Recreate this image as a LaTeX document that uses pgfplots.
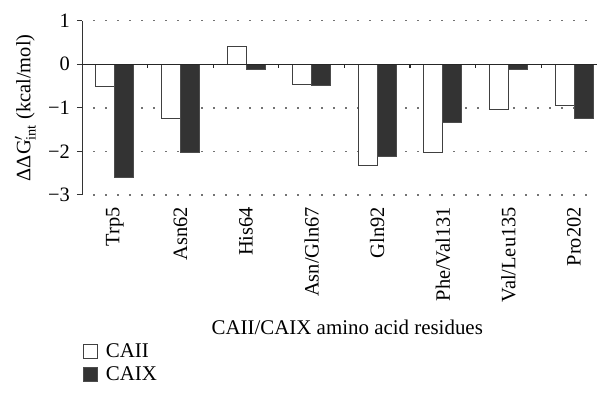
\documentclass[border=0pt]{standalone}
\usepackage{pgfplots}
\pgfplotsset{compat=1.18}
\usepackage{fontspec}
\setmainfont{Liberation Serif}
\begin{document}
\fontsize{21}{25}\selectfont
\begin{tikzpicture}
\path[use as bounding box] (0,0) rectangle (597bp,398bp);
\begin{axis}[
  at={(82bp,203bp)}, anchor=south west,
  scale only axis, width=515bp, height=174.3bp,
  xmin=-0.5, xmax=7.35, ymin=-3, ymax=1,
  clip=false,
  ybar=0pt, bar width=19bp,
  axis lines*=left,
  x axis line style={draw=none},
  y axis line style={black!80, line width=1bp},
  xtick={0,...,7},
  xticklabels={Trp5,Asn62,His64,Asn/Gln67,Gln92,Phe/Val131,Val/Leu135,Pro202},
  xtick style={draw=none},
  xticklabel style={rotate=90, anchor=east, font=\fontsize{20.5}{24}\selectfont},
  ytick={-3,-2,-1,0,1},
  yticklabels={−3,−2,−1,0,1},
  ytick style={black!80, line width=1bp},
  yticklabel style={font=\fontsize{20.5}{24}\selectfont},
  major tick length=5bp, tick align=outside,
  ylabel={ΔΔG$'_{\mathrm{int}}$ (kcal/mol)},
  ylabel style={at={(axis description cs:-0.11,0.5)}, anchor=center, font=\fontsize{20.5}{24}\selectfont},
  xlabel={CAII/CAIX amino acid residues},
  xlabel style={at={(axis description cs:0.515,-0.757)}, anchor=center, font=\fontsize{21}{25}\selectfont},
  legend style={draw=none, fill=none, at={(axis description cs:-0.004,-0.83)}, anchor=north west,
    font=\fontsize{21}{25}\selectfont, row sep=2bp},
  legend cell align=left,
  legend image code/.code={\draw[#1, line width=0.8bp] (0bp,-6bp) rectangle (14bp,8bp);},
  legend style={/tikz/every odd column/.append style={column sep=6bp}},
]
\pgfplotsinvokeforeach{1,-1,-2,-3}{\draw[black!55, line width=1.5bp, dash pattern=on 1.5bp off 10.5bp] (axis cs:-0.33,#1) -- (axis cs:7.35,#1);}
\addplot[draw=black!75, fill=white, line width=0.8bp] coordinates {(0,-0.50) (1,-1.25) (2,0.41) (3,-0.47) (4,-2.31) (5,-2.02) (6,-1.03) (7,-0.95)};
\addlegendentry{CAII}
\addplot[draw=black!70, fill=black!80, line width=0.8bp] coordinates {(0,-2.60) (1,-2.03) (2,-0.12) (3,-0.49) (4,-2.12) (5,-1.33) (6,-0.12) (7,-1.25)};
\addlegendentry{CAIX}
\draw[black!85, line width=1bp] (axis cs:-0.5,0) -- (axis cs:7.35,0);
\pgfplotsinvokeforeach{0.5,1.5,2.5,3.5,4.5,5.5,6.5}{\draw[black!85, line width=1.2bp] (axis cs:#1,0) -- (axis cs:#1,-0.09);}
\end{axis}
\end{tikzpicture}
\end{document}
